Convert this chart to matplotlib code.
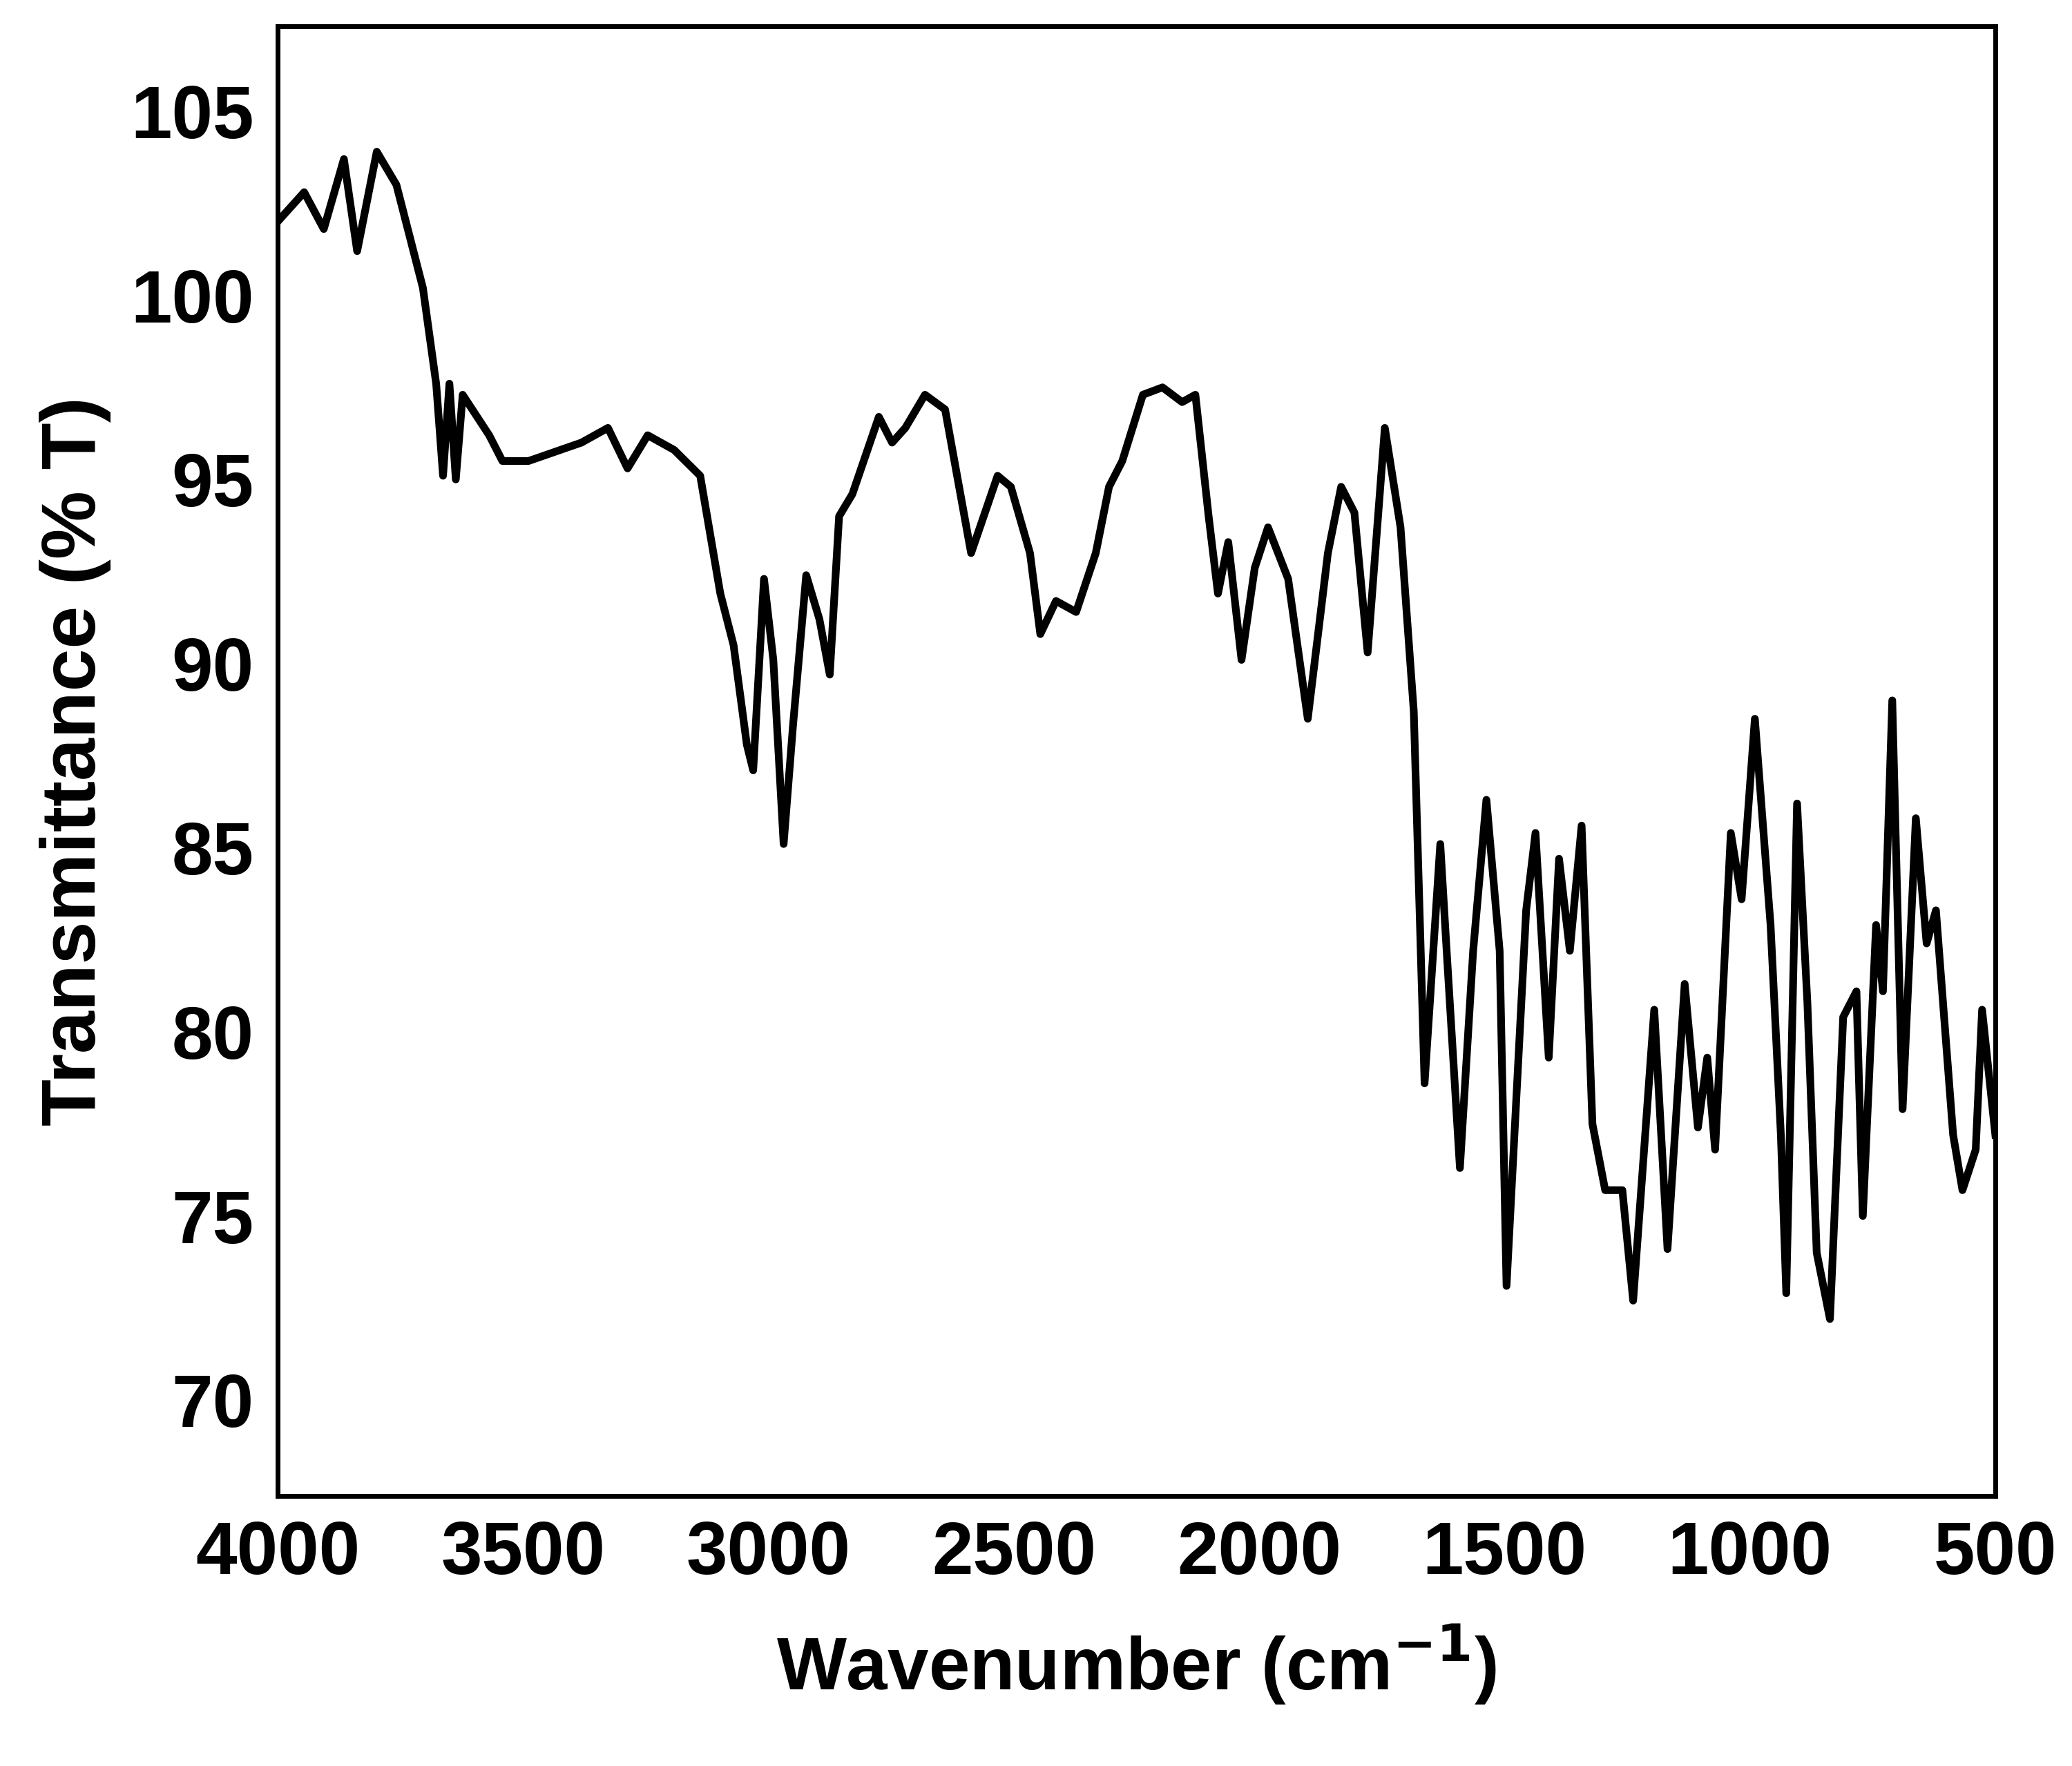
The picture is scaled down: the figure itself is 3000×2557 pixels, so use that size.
import matplotlib
matplotlib.use("Agg")
import matplotlib.pyplot as plt

wavenumber = [4000,3946,3906,3865,3838,3798,3758,3731,3704,3677,3663,3650,3637,3623,3569,3542,3489,3381,3327,3287,3246,3192,3139,3098,3071,3044,3031,3009,2990,2969,2950,2923,2896,2875,2856,2829,2775,2748,2721,2681,2640,2587,2533,2506,2467,2446,2414,2373,2333,2306,2279,2237,2197,2157,2130,2103,2084,2063,2036,2009,1982,1941,1901,1860,1833,1806,1779,1744,1712,1685,1663,1631,1618,1591,1564,1537,1510,1496,1456,1437,1410,1389,1367,1343,1321,1295,1260,1238,1195,1168,1133,1106,1087,1071,1039,1017,990,958,937,926,904,883,864,837,810,783,770,743,729,710,689,662,640,621,586,567,540,527,500]
transmittance = [102,102.8,101.8,103.7,101.2,103.9,103,101.6,100.2,97.6,95.1,97.6,95,97.3,96.2,95.5,95.5,96,96.4,95.3,96.2,95.8,95.1,91.9,90.5,87.8,87.1,92.3,90.1,85.1,88.3,92.4,91.2,89.7,94,94.6,96.7,96,96.4,97.3,96.9,93,95.1,94.8,93,90.8,91.7,91.4,93,94.8,95.5,97.3,97.5,97.1,97.3,94,91.9,93.3,90.1,92.6,93.7,92.3,88.5,93,94.8,94.1,90.3,96.4,93.7,88.7,78.6,85.1,82.2,76.3,82.2,86.3,82.2,73.1,83.3,85.4,79.3,84.7,82.2,85.6,77.5,75.7,75.7,72.7,80.6,74.1,81.3,77.4,79.3,76.8,85.4,83.6,88.5,82.9,77.2,72.9,86.2,80.8,74,72.2,80.4,81.1,75,82.9,81.1,89,77.9,85.8,82.4,83.3,77.2,75.7,76.8,80.6,77.2]
xticks = [4000,3500,3000,2500,2000,1500,1000,500]
yticks = [70,75,80,85,90,95,100,105]

plt.rcParams['font.family'] = ['Liberation Sans', 'DejaVu Sans']
plt.rcParams['font.weight'] = 'bold'
fig = plt.figure(figsize=(30, 25.57), dpi=100)
ax = fig.add_axes([0.134, 0.153, 0.829, 0.832])
ax.plot(wavenumber, transmittance, color='black', lw=8)
ax.set_xlim(4000, 500)
ax.set_ylim(67.4, 107.3)
ax.set_xticks(xticks)
ax.set_yticks(yticks)
ax.tick_params(length=0, labelsize=77, pad=25)
for lab in ax.get_xticklabels() + ax.get_yticklabels():
    lab.set_fontweight('bold')
for s in ax.spines.values():
    s.set_linewidth(5)
ax.set_xlabel('Wavenumber (cm$^{\\mathbf{-1}}$)', fontsize=77, fontweight='bold', labelpad=35)
ax.set_ylabel('Transmittance (% T)', fontsize=80, fontweight='bold', labelpad=20)
fig.savefig('out.png', dpi=100)
